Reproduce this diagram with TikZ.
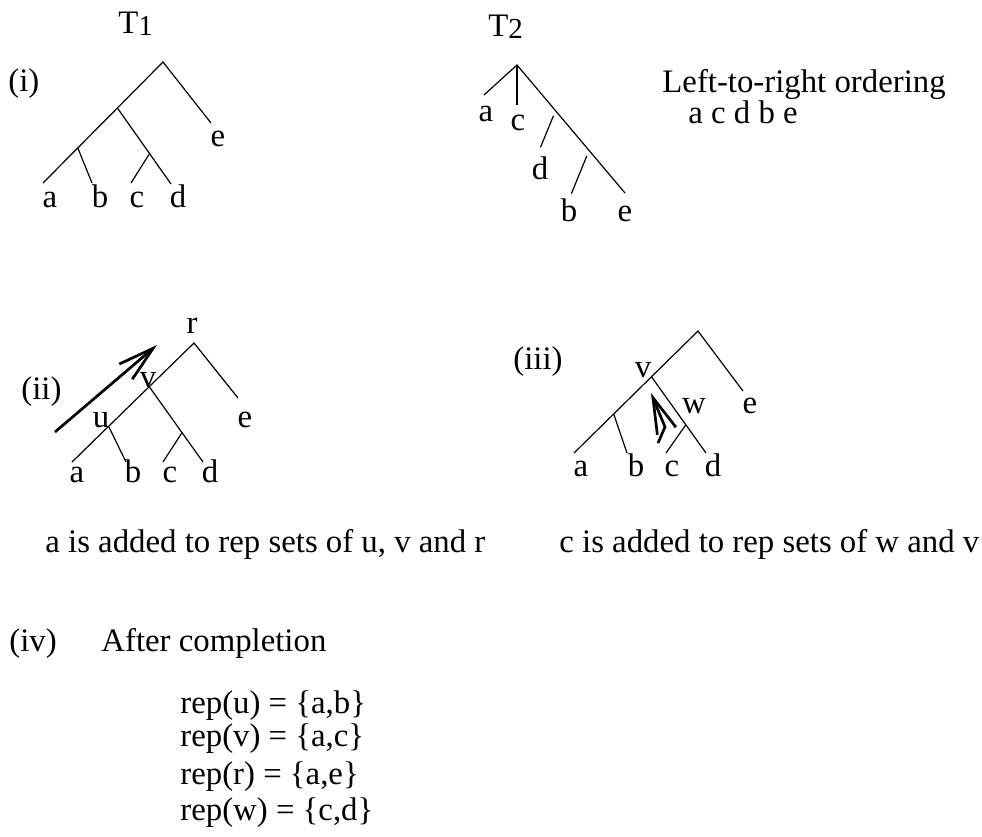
\documentclass[tikz,border=0pt]{standalone}
\usepackage{fontspec}
\setmainfont{Liberation Serif}
\usetikzlibrary{positioning, calc, arrows.meta}

\begin{document}
\begin{tikzpicture}[
    x=0.5pt, y=-0.5pt,
    every node/.style={font=\fontsize{16.4pt}{19pt}\selectfont, inner sep=0pt},
    branch/.style={line width=0.6pt},
    leaf/.style={anchor=base},
    caption/.style={anchor=base west},
    climb/.style={line width=1.35pt, -{Straight Barb[length=18pt, width=10pt]}}
]
\useasboundingbox (0,0) rectangle (982,837);

% (i) tree T1
\node[caption] (T1) at (118,33) {T\raisebox{-1pt}{\fontsize{14.5pt}{14.5pt}\selectfont 1}};
\node[caption] (i) at (8,91) {(i)};
\coordinate (r1) at (163,62);
\coordinate (e1) at (211,123);
\coordinate (a1) at (43,183);
\coordinate (v1) at ($(r1)!0.38!(a1)$);
\coordinate (u1) at ($(r1)!0.71!(a1)$);
\coordinate (d1) at (171,184);
\coordinate (w1) at ($(v1)!0.6!(d1)$);
\coordinate (b1) at (92,183);
\coordinate (c1) at (131,183);
\draw[branch] (e1) -- (r1) -- (a1);
\draw[branch] (v1) -- (d1);
\draw[branch] (u1) -- (b1);
\draw[branch] (w1) -- (c1);
\node[leaf] (la1) at (50,207) {a};
\node[leaf] (lb1) at (100,207) {b};
\node[leaf] (lc1) at (137,207) {c};
\node[leaf] (ld1) at (178,207) {d};
\node[leaf] (le1) at (218,146) {e};

% tree T2
\node[caption] (T2) at (488,36) {T\raisebox{-1pt}{\fontsize{14.5pt}{14.5pt}\selectfont 2}};
\coordinate (r4) at (517,65);
\coordinate (a4) at (484,95);
\coordinate (c4) at (517,104.5);
\coordinate (e4) at (625,193);
\coordinate (dt4) at (553.5,115.7);
\coordinate (db4) at (540.5,147.3);
\coordinate (bt4) at (586.8,156);
\coordinate (bb4) at (571.4,193.6);
\draw[branch] (a4) -- (r4) -- (e4);
\draw[branch] (r4) -- (c4);
\draw[branch] (dt4) -- (db4);
\draw[branch] (bt4) -- (bb4);
\node[leaf] (la4) at (486,121) {a};
\node[leaf] (lc4) at (518,130) {c};
\node[leaf] (ld4) at (540,179) {d};
\node[leaf] (lb4) at (569,221) {b};
\node[leaf] (le4) at (625,221) {e};
\node[caption] (order) at (662,92) {Left-to-right ordering};
\node[caption] (seq) at (688,123) {a c d b e};

% (ii)
\node[caption] (ii) at (21,399) {(ii)};
\coordinate (r2) at (194,343);
\coordinate (e2) at (238,398);
\coordinate (a2) at (72,462);
\coordinate (v2) at ($(r2)!0.367!(a2)$);
\coordinate (u2) at ($(r2)!0.70!(a2)$);
\coordinate (d2) at (203,462);
\coordinate (w2) at ($(v2)!0.61!(d2)$);
\coordinate (b2) at (126,462);
\coordinate (c2) at (163,462);
\draw[branch] (e2) -- (r2) -- (a2);
\draw[branch] (v2) -- (d2);
\draw[branch] (u2) -- (b2);
\draw[branch] (w2) -- (c2);
\node[leaf] (lr2) at (192,333) {r};
\node[leaf] (lv2) at (148,387) {v};
\node[leaf] (lu2) at (101,427) {u};
\node[leaf] (le2) at (245,427) {e};
\node[leaf] (la2) at (77,482) {a};
\node[leaf] (lb2) at (133,482) {b};
\node[leaf] (lc2) at (170,482) {c};
\node[leaf] (ld2) at (210,482) {d};
\coordinate (s2) at (55,432);
\coordinate (t2) at (157,345);
\draw[climb] (s2) -- (t2);

% (iii)
\node[caption] (iii) at (513,369) {(iii)};
\coordinate (r3) at (698,331);
\coordinate (e3) at (743,391);
\coordinate (a3) at (574,453);
\coordinate (v3) at ($(r3)!0.375!(a3)$);
\coordinate (u3) at ($(r3)!0.68!(a3)$);
\coordinate (d3) at (706,453);
\coordinate (w3) at ($(v3)!0.63!(d3)$);
\coordinate (b3) at (627,453);
\coordinate (c3) at (666,453);
\draw[branch] (e3) -- (r3) -- (a3);
\draw[branch] (v3) -- (d3);
\draw[branch] (u3) -- (b3);
\draw[branch] (w3) -- (c3);
\node[leaf] (lv3) at (643,377) {v};
\node[leaf] (lw3) at (694,413) {w};
\node[leaf] (le3) at (750,413) {e};
\node[leaf] (la3) at (581,476) {a};
\node[leaf] (lb3) at (636,476) {b};
\node[leaf] (lc3) at (672,476) {c};
\node[leaf] (ld3) at (713,476) {d};
\coordinate (s3) at (658,443);
\coordinate (k3) at (665,427);
\coordinate (t3) at (651,393);
\draw[climb] (s3) -- (k3) -- (t3);

\node[caption] (cap2) at (45,552) {a is added to rep sets of u, v and r};
\node[caption] (cap3) at (559,552) {c is added to rep sets of w and v};

% (iv)
\node[caption] (iv) at (9,651) {(iv)};
\node[caption] (done) at (101,651) {After completion};
\node[caption] (repu) at (180,713) {rep(u) = \{a,b\}};
\node[caption] (repv) at (180,746) {rep(v) = \{a,c\}};
\node[caption] (repr) at (180,784) {rep(r) = \{a,e\}};
\node[caption] (repw) at (180,820) {rep(w) = \{c,d\}};

\end{tikzpicture}
\end{document}
